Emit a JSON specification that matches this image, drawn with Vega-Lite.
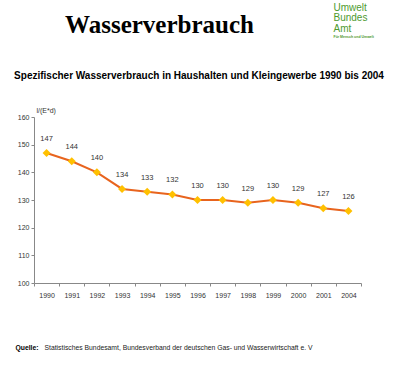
{
  "$schema": "https://vega.github.io/schema/vega-lite/v6.json",
  "width": 327,
  "height": 166,
  "autosize": {"type": "none"},
  "padding": {"left": 34, "top": 117, "right": 37, "bottom": 86},
  "background": "white",
  "config": {"view": {"stroke": null}, "font": "Liberation Sans"},
  "title": {"text": "Wasserverbrauch", "font": "Liberation Serif", "fontSize": 25, "fontWeight": "bold", "color": "#000000", "anchor": "middle", "frame": "group", "dx": -38, "dy": 40},
  "data": {"values": [
    {"Jahr": "1990", "Verbrauch": 147},
    {"Jahr": "1991", "Verbrauch": 144},
    {"Jahr": "1992", "Verbrauch": 140},
    {"Jahr": "1993", "Verbrauch": 134},
    {"Jahr": "1994", "Verbrauch": 133},
    {"Jahr": "1995", "Verbrauch": 132},
    {"Jahr": "1996", "Verbrauch": 130},
    {"Jahr": "1997", "Verbrauch": 130},
    {"Jahr": "1998", "Verbrauch": 129},
    {"Jahr": "1999", "Verbrauch": 130},
    {"Jahr": "2000", "Verbrauch": 129},
    {"Jahr": "2001", "Verbrauch": 127},
    {"Jahr": "2004", "Verbrauch": 126}
  ]},
  "layer": [
    {
      "mark": {"type": "line", "color": "#E8641E", "strokeWidth": 2},
      "encoding": {
        "x": {"field": "Jahr", "type": "ordinal", "sort": null, "scale": {"type": "band", "paddingInner": 0, "paddingOuter": 0},
          "axis": {"orient": "bottom", "title": "Statistisches Bundesamt,  Bundesverband der deutschen Gas- und Wasserwirtschaft e. V", "titleX": 10, "titleY": 64, "titleAlign": "left", "titleBaseline": "middle", "titleFontSize": 6.8, "titleFontWeight": "normal", "titleColor": "#222222", "labelAngle": 0, "labelFontSize": 7, "labelColor": "#333333", "labelPadding": 5, "tickBand": "extent", "tickSize": 3, "domainColor": "#888888", "tickColor": "#888888", "grid": false}},
        "y": {"field": "Verbrauch", "type": "quantitative", "scale": {"domain": [100, 160]},
          "axis": {"orient": "left", "values": [100, 110, 120, 130, 140, 150, 160], "title": "l/(E*d)", "titleAngle": 0, "titleX": 2, "titleY": -7, "titleAlign": "left", "titleBaseline": "middle", "titleFontSize": 7, "titleFontWeight": "normal", "titleColor": "#333333", "labelFontSize": 7, "labelColor": "#333333", "labelPadding": 2, "tickSize": 3, "domainColor": "#888888", "tickColor": "#888888", "grid": false}}
      }
    },
    {
      "mark": {"type": "point", "shape": "diamond", "filled": true, "color": "#FFC000", "size": 64, "opacity": 1},
      "encoding": {
        "x": {"field": "Jahr", "type": "ordinal", "sort": null, "scale": {"type": "band", "paddingInner": 0, "paddingOuter": 0},
          "axis": {"orient": "bottom", "labels": false, "ticks": false, "domain": false, "grid": false, "title": "Quelle:", "titleX": -19, "titleY": 64, "titleAlign": "left", "titleBaseline": "middle", "titleFontSize": 6.8, "titleFontWeight": "bold", "titleColor": "#000000"}},
        "y": {"field": "Verbrauch", "type": "quantitative", "scale": {"domain": [100, 160]},
          "axis": {"orient": "right", "labels": false, "ticks": false, "domain": false, "grid": false, "title": ["Umwelt", "Bundes", "Amt"], "titleAngle": 0, "titleX": -28, "titleY": -115, "titleAlign": "left", "titleBaseline": "top", "titleFontSize": 10, "titleLineHeight": 10.8, "titleFontWeight": "normal", "titleColor": "#4E9A2E"}}
      }
    },
    {
      "mark": {"type": "text", "dy": -14, "fontSize": 7.5, "color": "#333333"},
      "encoding": {
        "x": {"field": "Jahr", "type": "ordinal", "sort": null, "scale": {"type": "band", "paddingInner": 0, "paddingOuter": 0},
          "axis": {"orient": "top", "labels": false, "ticks": false, "domain": false, "grid": false, "title": "Spezifischer Wasserverbrauch in Haushalten und Kleingewerbe  1990 bis 2004", "titleX": 164.5, "titleY": -42, "titleAlign": "center", "titleBaseline": "middle", "titleFontSize": 10, "titleFontWeight": "bold", "titleColor": "#000000"}},
        "y": {"field": "Verbrauch", "type": "quantitative", "scale": {"domain": [100, 160]},
          "axis": {"orient": "right", "labels": false, "ticks": false, "domain": false, "grid": false, "title": "Für Mensch und Umwelt", "titleAngle": 0, "titleX": -28, "titleY": -81, "titleAlign": "left", "titleBaseline": "middle", "titleFontSize": 3.5, "titleFontWeight": "bold", "titleColor": "#4E9A2E"}},
        "text": {"field": "Verbrauch", "type": "quantitative"}
      }
    }
  ],
  "resolve": {"axis": {"x": "independent", "y": "independent"}}
}
